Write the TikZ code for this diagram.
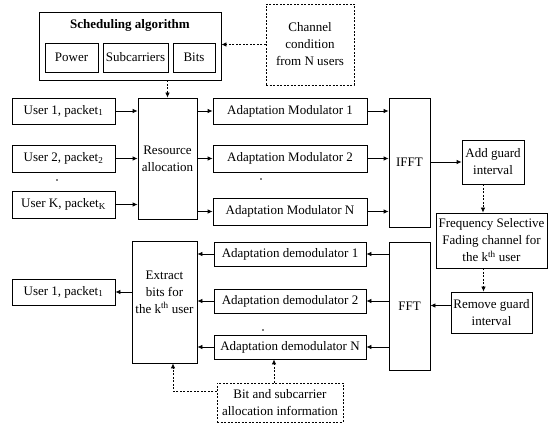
\documentclass[tikz,border=0pt]{standalone}
\usepackage{fontspec}
\setmainfont{Liberation Serif}
\usetikzlibrary{arrows.meta,calc}
\begin{document}
\begin{tikzpicture}[x=1pt,y=-1pt,
  box/.style={draw,line width=0.8pt,inner sep=0pt,align=center},
  dbox/.style={box,dash pattern=on 2pt off 1.5pt},
  arr/.style={-{Latex[length=5pt,width=4.5pt]},line width=0.8pt},
  darr/.style={arr,dash pattern=on 2pt off 1.5pt},
  font=\fontsize{13}{17}\selectfont]
\useasboundingbox (0,0) rectangle (550,425);
% scheduling
\node[box,minimum width=182,minimum height=68] (sched) at (130,46) {};
\node[inner sep=0pt,font=\fontsize{13}{17}\selectfont\bfseries] (title) at (130,25) {Scheduling algorithm};
\node[box,minimum width=53,minimum height=29] (power) at (71.5,57.5) {Power};
\node[box,minimum width=65,minimum height=29] (subc) at (135.5,57.5) {Subcarriers};
\node[box,minimum width=42,minimum height=29] (bits) at (194,57.5) {Bits};
\node[dbox,minimum width=88,minimum height=81] (chan) at (310,44.5) {Channel\\condition\\from N users};
% users
\node[box,minimum width=103,minimum height=26] (u1) at (63.5,111) {User 1, packet\textsubscript{1}};
\node[box,minimum width=103,minimum height=27] (u2) at (63.5,158.5) {User 2, packet\textsubscript{2}};
\node[box,minimum width=103,minimum height=27] (uk) at (63.5,204.5) {User K, packet\textsubscript{K}};
\node[box,minimum width=59,minimum height=121] (ra) at (167.5,158.5) {Resource\\allocation};
% modulators
\node[box,minimum width=154,minimum height=26] (m1) at (290,111) {Adaptation Modulator 1};
\node[box,minimum width=154,minimum height=27] (m2) at (290,158.5) {Adaptation Modulator 2};
\node[box,minimum width=154,minimum height=27] (mN) at (290,211.5) {Adaptation Modulator N};
\node[box,minimum width=41,minimum height=129] (ifft) at (409.5,162.5) {IFFT};
\node[box,minimum width=62,minimum height=44] (agi) at (493,162) {Add guard\\interval};
\node[box,minimum width=111,minimum height=55] (fsf) at (491.5,240.5) {Frequency Selective\\Fading channel for\\the k\textsuperscript{th} user};
\node[box,minimum width=81,minimum height=41] (rgi) at (491.5,312.5) {Remove guard\\interval};
\node[box,minimum width=41,minimum height=128] (fft) at (409.5,306) {FFT};
% demodulators
\node[box,minimum width=152,minimum height=24] (d1) at (290,254) {Adaptation demodulator 1};
\node[box,minimum width=152,minimum height=24] (d2) at (290,301) {Adaptation demodulator 2};
\node[box,minimum width=152,minimum height=24] (dN) at (290,347) {Adaptation demodulator N};
\node[box,minimum width=65,minimum height=122] (ex) at (164.5,302) {};
\node[inner sep=0pt,align=center] (ext) at (164.5,292) {Extract\\bits for\\the k\textsuperscript{th} user};
\node[box,minimum width=103,minimum height=26] (uo) at (63.5,292) {User 1, packet\textsubscript{1}};
\node[dbox,minimum width=126,minimum height=39] (bsa) at (280,402.5) {Bit and subcarrier\\allocation information};
% dots
\fill (57,180) circle (0.9);
\fill (261,179) circle (0.9);
\fill (263,330) circle (0.9);
% connectors
\draw[darr] (chan.west) -- (chan.west -| sched.east);
\draw[darr] (sched.south -| ra.north) -- (ra.north);
\draw[arr] (u1.east) -- (u1 -| ra.west);
\draw[arr] (u2.east) -- (u2 -| ra.west);
\draw[arr] (uk.east) -- (uk -| ra.west);
\draw[arr] (m1 -| ra.east) -- (m1.west);
\draw[arr] (m2 -| ra.east) -- (m2.west);
\draw[arr] (mN -| ra.east) -- (mN.west);
\draw[arr] (m1.east) -- (m1 -| ifft.west);
\draw[arr] (m2.east) -- (m2 -| ifft.west);
\draw[arr] (mN.east) -- (mN -| ifft.west);
\draw[arr] (agi -| ifft.east) -- (agi.west);
\draw[darr] ([xshift=-10pt]agi.south) -- ([xshift=-10pt]agi.south |- fsf.north);
\draw[darr] ([xshift=-8pt]fsf.south) -- ([xshift=-8pt]fsf.south |- rgi.north);
\draw[arr] ([yshift=7pt]rgi.west) -- ([yshift=7pt]rgi.west -| fft.east);
\draw[arr] (d1 -| fft.west) -- (d1.east);
\draw[arr] (d2 -| fft.west) -- (d2.east);
\draw[arr] (dN -| fft.west) -- (dN.east);
\draw[arr] (d1.west) -- (d1 -| ex.east);
\draw[arr] (d2.west) -- (d2 -| ex.east);
\draw[arr] (dN.west) -- (dN -| ex.east);
\draw[arr] (uo -| ex.west) -- (uo.east);
\draw[darr] ([xshift=-6pt]bsa.north) -- ([xshift=-6pt]bsa.north |- dN.south);
\draw[darr] ([yshift=11.5pt]bsa.west) -| ([xshift=8.5pt]ex.south);
\end{tikzpicture}
\end{document}
